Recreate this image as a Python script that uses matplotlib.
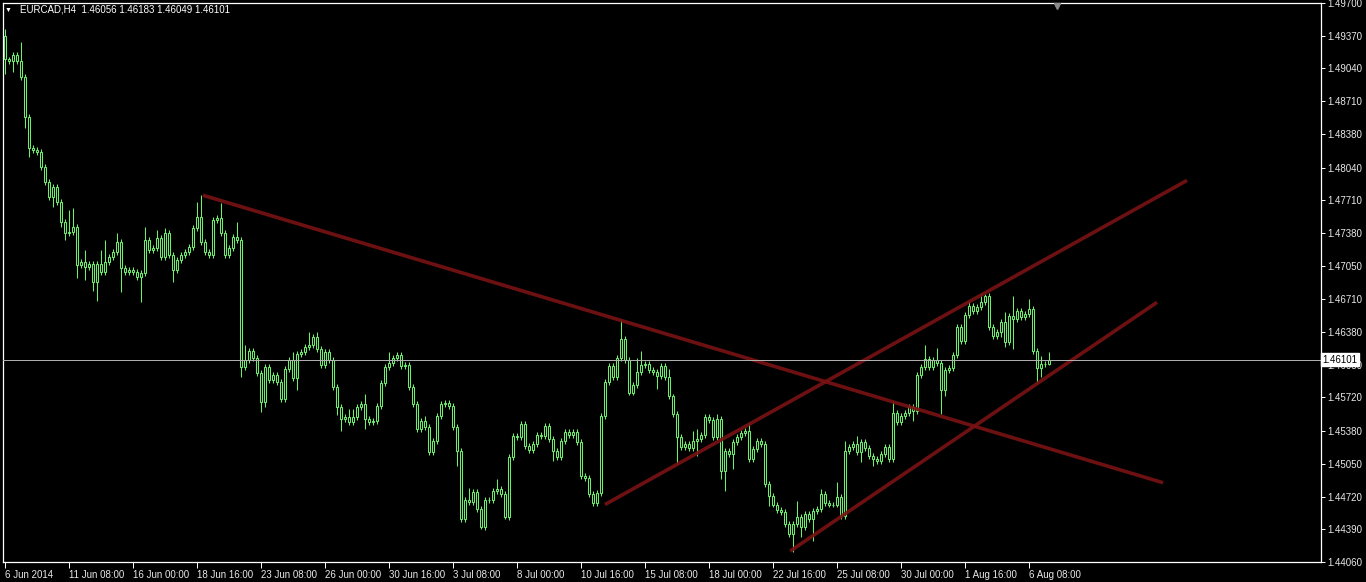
import numpy as np
import matplotlib
matplotlib.use("Agg")
import matplotlib.pyplot as plt
from matplotlib.transforms import blended_transform_factory

W, H = 1366, 582

SYMBOL = "EURCAD,H4"
LAST_OHLC = "1.46056 1.46183 1.46049 1.46101"
BID = 1.46101

# H4 candles, prices in pips (1.4913 -> 14913); open of each bar = previous close
FIRST_OPEN = 14937
CLOSE_PIPS = [
    14913, 14911, 14918, 14911, 14895, 14855, 14824, 14822, 14820, 14805,
    14789, 14774, 14784, 14769, 14749, 14738, 14739, 14744, 14706, 14709,
    14704, 14707, 14689, 14707, 14699, 14709, 14714, 14719, 14729, 14703,
    14699, 14701, 14699, 14694, 14698, 14731, 14721, 14723, 14733, 14714,
    14738, 14716, 14701, 14711, 14716, 14719, 14724, 14743, 14754, 14729,
    14719, 14716, 14751, 14753, 14738, 14716, 14723, 14734, 14731, 14603,
    14610, 14619, 14612, 14597, 14567, 14603, 14590, 14595, 14588, 14570,
    14601, 14610, 14592, 14616, 14618, 14623, 14625, 14633, 14621, 14605,
    14618, 14610, 14583, 14562, 14550, 14552, 14547, 14552, 14562, 14565,
    14550, 14547, 14548, 14563, 14587, 14603, 14607, 14612, 14615, 14604,
    14605, 14583, 14565, 14540, 14548, 14542, 14517, 14528, 14553, 14565,
    14566, 14563, 14542, 14518, 14449, 14469, 14467, 14477, 14459, 14441,
    14469, 14469, 14478, 14480, 14475, 14451, 14512, 14533, 14532, 14545,
    14523, 14519, 14525, 14534, 14533, 14543, 14530, 14518, 14512, 14528,
    14537, 14534, 14537, 14527, 14493, 14491, 14475, 14466, 14476, 14553,
    14588, 14604, 14593, 14612, 14631, 14610, 14577, 14585, 14598, 14605,
    14606, 14600, 14598, 14594, 14604, 14593, 14573, 14555, 14532, 14522,
    14525, 14521, 14528, 14530, 14534, 14552, 14549, 14532, 14550, 14498,
    14518, 14515, 14527, 14532, 14536, 14538, 14510, 14520, 14528, 14525,
    14485, 14473, 14464, 14458, 14456, 14444, 14434, 14444, 14451, 14441,
    14454, 14449, 14457, 14459, 14475, 14466, 14464, 14464, 14472, 14452,
    14518, 14522, 14525, 14517, 14527, 14521, 14513, 14510, 14508, 14515,
    14522, 14510, 14556, 14547, 14553, 14556, 14562, 14558, 14595, 14603,
    14611, 14603, 14610, 14607, 14580, 14600, 14602, 14615, 14643, 14629,
    14655, 14664, 14659, 14663, 14668, 14674, 14643, 14634, 14638, 14648,
    14628, 14654, 14651, 14659, 14653, 14656, 14661, 14619, 14602, 14606,
    14605.6, 14610.1,
]
# wick length above / below the body, pips
UPPER_WICK = [
    7, 3, 3, 3, 20, 3, 3, 3, 3, 3, 3, 3, 3, 3, 3, 3, 22, 19, 3, 3,
    12, 3, 3, 3, 14, 22, 3, 3, 9, 3, 3, 3, 3, 3, 3, 13, 3, 3, 8, 3,
    5, 3, 3, 3, 3, 3, 3, 3, 15, 22, 3, 3, 3, 3, 15, 3, 3, 3, 15, 3,
    15, 3, 3, 3, 3, 3, 3, 3, 3, 3, 3, 3, 8, 3, 3, 3, 13, 3, 5, 3,
    3, 3, 3, 3, 3, 3, 8, 8, 3, 3, 10, 3, 3, 3, 3, 3, 11, 3, 3, 3,
    3, 3, 3, 3, 3, 5, 3, 3, 3, 3, 3, 3, 3, 3, 3, 3, 12, 3, 3, 3,
    3, 3, 3, 10, 3, 3, 3, 3, 3, 3, 3, 3, 3, 3, 3, 3, 3, 3, 3, 3,
    3, 3, 3, 3, 3, 3, 3, 3, 3, 3, 3, 3, 3, 3, 19, 3, 3, 3, 14, 14,
    3, 3, 3, 3, 3, 3, 8, 3, 3, 3, 3, 3, 10, 10, 3, 3, 3, 3, 5, 3,
    3, 3, 3, 3, 3, 3, 8, 3, 3, 3, 3, 3, 3, 3, 3, 3, 3, 3, 17, 3,
    3, 3, 3, 3, 5, 3, 3, 3, 15, 3, 10, 3, 3, 8, 3, 3, 3, 3, 3, 3,
    3, 3, 12, 3, 3, 3, 3, 3, 3, 3, 14, 3, 3, 12, 3, 3, 3, 3, 3, 3,
    3, 5, 3, 3, 8, 2, 3, 3, 3, 3, 10, 3, 20, 3, 3, 3, 10, 3, 3, 8,
    3, 8.2,
]
LOWER_WICK = [
    15, 3, 11, 3, 3, 11, 9, 3, 3, 3, 3, 3, 10, 3, 5, 7, 3, 3, 13, 3,
    13, 3, 10, 20, 3, 3, 3, 3, 3, 25, 3, 3, 3, 3, 26, 3, 3, 3, 3, 3,
    3, 3, 12, 3, 3, 3, 3, 3, 3, 3, 3, 3, 3, 3, 3, 3, 3, 3, 3, 10,
    3, 3, 3, 3, 10, 5, 3, 3, 3, 3, 3, 3, 3, 12, 3, 3, 3, 3, 3, 3,
    3, 3, 3, 8, 12, 3, 3, 3, 3, 3, 10, 3, 3, 3, 3, 3, 3, 3, 3, 3,
    3, 3, 3, 3, 3, 3, 3, 3, 3, 3, 3, 3, 3, 15, 3, 3, 3, 3, 3, 2,
    3, 3, 3, 3, 3, 2, 3, 3, 3, 3, 3, 3, 3, 3, 3, 3, 3, 10, 3, 3,
    3, 3, 3, 3, 3, 3, 3, 3, 4, 3, 3, 3, 3, 3, 3, 3, 3, 3, 3, 3,
    3, 3, 3, 13, 3, 3, 3, 3, 27, 3, 3, 3, 3, 15, 3, 3, 3, 3, 3, 8,
    20, 3, 15, 3, 3, 3, 3, 3, 3, 3, 3, 10, 3, 3, 3, 3, 3, 18, 3, 10,
    3, 3, 22, 3, 3, 3, 3, 3, 3, 3, 3, 3, 3, 3, 10, 3, 3, 7, 3, 3,
    3, 3, 3, 3, 3, 3, 3, 10, 3, 3, 3, 3, 3, 3, 25, 7, 3, 3, 3, 3,
    3, 3, 3, 3, 3, 3, 3, 3, 3, 5, 5, 3, 30, 3, 3, 3, 3, 3, 15, 9,
    3, 0.7,
]

DATE_LABELS = ["6 Jun 2014", "11 Jun 08:00", "16 Jun 00:00", "18 Jun 16:00",
               "23 Jun 08:00", "26 Jun 00:00", "30 Jun 16:00", "3 Jul 08:00",
               "8 Jul 00:00", "10 Jul 16:00", "15 Jul 08:00", "18 Jul 00:00",
               "22 Jul 16:00", "25 Jul 08:00", "30 Jul 00:00", "1 Aug 16:00",
               "6 Aug 08:00"]
BARS_PER_LABEL = 16

PRICE_LABELS = ["1.49700", "1.49370", "1.49040", "1.48710", "1.48380", "1.48040",
                "1.47710", "1.47380", "1.47050", "1.46710", "1.46380", "1.46050",
                "1.45720", "1.45380", "1.45050", "1.44720", "1.44390", "1.44060"]

# trend lines drawn on the chart: (bar index, price) -> (bar index, price)
TRENDLINES = [
    ((49.5, 1.4776), (289.5, 1.4486)),
    ((150.0, 1.4464), (295.5, 1.4791)),
    ((196.3, 1.4417), (288.0, 1.4668)),
]
SHIFT_BAR = 263

GREEN = "#6cf06c"
LINE_RED = "#7a1214"
FONT = ["Liberation Sans", "DejaVu Sans"]

closes = np.array(CLOSE_PIPS) / 10000
opens = np.r_[FIRST_OPEN / 10000, closes[:-1]]
highs = np.maximum(opens, closes) + np.array(UPPER_WICK) / 10000
lows = np.minimum(opens, closes) - np.array(LOWER_WICK) / 10000
idx = np.arange(len(closes))

fig = plt.figure(figsize=(W / 100, H / 100), dpi=100, facecolor="black")
ax = fig.add_axes([3 / W, 1 - 562 / H, 1318 / W, 559 / H], facecolor="black")

ax.vlines(idx, lows, highs, color=GREEN, lw=0.75, zorder=2)
body_lo = np.minimum(opens, closes)
body_h = np.abs(closes - opens)
ax.bar(idx, body_h, bottom=body_lo, width=0.5, facecolor="black",
       edgecolor=GREEN, linewidth=0.75, zorder=3)

for (x0, y0), (x1, y1) in TRENDLINES:
    ax.plot([x0, x1], [y0, y1], color=LINE_RED, lw=2.6, alpha=0.9,
            solid_capstyle="butt", zorder=4)

ax.axhline(BID, color="#b4b4b4", lw=0.7, zorder=5)

ax.set_xlim(-0.5, 329)
ax.set_ylim(1.4406, 1.4970)

for s in ax.spines.values():
    s.set_color("white")
    s.set_linewidth(0.9)

# price axis on the right
ax.yaxis.tick_right()
price_vals = [float(p) for p in PRICE_LABELS]
ax.set_yticks(price_vals, PRICE_LABELS)
ax.tick_params(axis="y", colors="white", length=3, width=0.7, pad=1.5,
               labelsize=7)

# time axis
xpos = [k * BARS_PER_LABEL for k in range(len(DATE_LABELS))]
ax.set_xticks(xpos, DATE_LABELS, ha="left")
ax.tick_params(axis="x", colors="white", length=4, width=0.7, pad=2,
               labelsize=7)
for lab in ax.get_xticklabels() + ax.get_yticklabels():
    lab.set_family(FONT)
    lab.set_color("#e8e8e8")

# current price box
trans = blended_transform_factory(ax.transAxes, ax.transData)
ax.text(1.0012, BID, f"{BID:.5f}", transform=trans, ha="left", va="center",
        fontsize=7, color="black", family=FONT, zorder=20, clip_on=False,
        bbox=dict(boxstyle="square,pad=0.18", facecolor="white",
                  edgecolor="white"))

# chart shift marker
ax.plot(SHIFT_BAR, 1.4967, marker="v", color="#8a8a8a", ms=5, mec="#8a8a8a",
        clip_on=False, zorder=6)

fig.text(8 / W, 1 - 10 / H, "\u25bc", fontsize=5, color="white",
         ha="center", va="center", family=FONT)
fig.text(20 / W, 1 - 10 / H, f"{SYMBOL}  {LAST_OHLC}", fontsize=7,
         color="white", ha="left", va="center", family=FONT)

fig.savefig("out.png", dpi=100, facecolor="black")
